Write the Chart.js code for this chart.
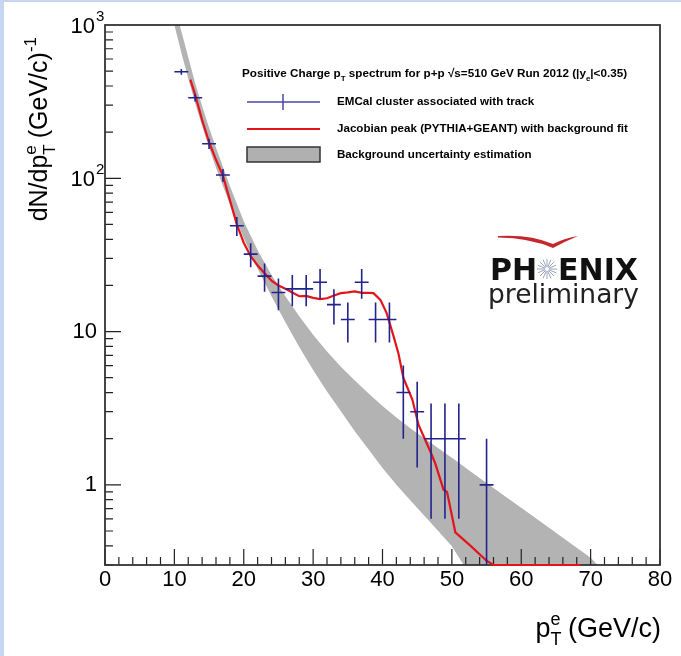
<!DOCTYPE html>
<html>
<head>
<meta charset="utf-8">
<title>Positive charge pT spectrum</title>
<script src="https://cdn.jsdelivr.net/npm/chart.js@4.4.1/dist/chart.umd.min.js"></script>
<style>
  html, body { margin: 0; padding: 0; background: #fff; }
  #wrap { width: 681px; height: 656px; }
</style>
</head>
<body>
<div id="wrap"><canvas id="spectrum" width="681" height="656"></canvas></div>
<script>
// --- Data ---
const binCenters = [11, 13, 15, 17, 19, 21, 23, 25, 27, 29, 31, 33, 35, 37, 39, 41, 43, 45, 47, 49, 51, 55];
const counts = [495, 335, 168, 105, 49, 32, 23, 18, 19, 19, 21, 15, 12, 21, 12, 12, 4, 3, 2, 2, 2, 1];
const countErrors = [22, 18, 13, 10, 7, 5.7, 4.8, 4.2, 4.4, 4.4, 4.6, 3.9, 3.5, 4.6, 3.5, 3.5, 2, 1.7, 1.4, 1.4, 1.4, 1];
const binHalfWidth = 1;

const fitX = [12.3, 13, 14, 15, 16, 17, 18, 19, 20, 21, 22, 23, 24, 25, 26, 27, 28, 29, 30, 31, 32, 33, 34, 35, 36, 37, 38, 38.7,
              39.7, 40.6, 41.6, 42.3, 43, 44.3, 45.2, 46.9, 47.6, 48.8, 49.3, 50.5, 52.7, 55, 56, 68.5];
const fitY = [440, 350, 240, 172, 132, 104, 72, 50, 38, 31, 27, 24, 21.5, 20, 19, 18, 17, 17.1, 16.6, 16.3, 16.5, 17.2, 17.8, 18, 18.3, 17.9, 17.9, 17.8,
              16.1, 13.2, 9.3, 7.2, 5.0, 3.6, 2.46, 1.65, 1.38, 0.93, 0.9, 0.49, 0.40, 0.32, 0.30, 0.30];

const bandX    = [10, 11, 12, 13, 14, 15, 16, 18, 20, 22, 24, 26, 28, 30, 32, 34, 36, 38, 40, 42, 44, 46, 48, 50, 51.7, 52, 54, 56, 58, 60, 62, 64, 66, 68, 70, 71];
const bandLow  = [1000, 661, 447, 309, 219, 158, 117, 67.6, 40.7, 25.7, 17.0, 11.5, 7.94, 5.62, 4.07, 3.02, 2.24, 1.70, 1.29, 1.00, 0.794, 0.631, 0.501, 0.398, 0.30,
                  0.30, 0.30, 0.30, 0.30, 0.30, 0.30, 0.30, 0.30, 0.30, 0.30, 0.30];
const bandHigh = [1350, 912, 617, 417, 295, 214, 158, 89.1, 52.5, 33.9, 23.4, 17.0, 12.6, 9.55, 7.41, 5.89, 4.79, 3.94, 3.27, 2.75, 2.34, 2.02, 1.74, 1.50, 1.32,
                  1.29, 1.11, 0.955, 0.822, 0.708, 0.610, 0.525, 0.452, 0.389, 0.335, 0.30];

const xTickValues = [0, 10, 20, 30, 40, 50, 60, 70, 80];
const xTickLabels = ['0', '10', '20', '30', '40', '50', '60', '70', '80'];
const yTickValues = [1, 10, 100, 1000];
const yTickBase = ['1', '10', '10', '10'];
const yTickExp = ['', '', '2', '3'];

const FONT = '"Liberation Sans", Arial, Helvetica, sans-serif';
const LOGO_FONT = '"DejaVu Sans", Verdana, sans-serif';

// --- Helpers ---
// parts: {text, size, bold, dy, keep}; keep = next part starts at the same x (stacked sub/sup)
function richWidth(ctx, parts) {
    let w = 0;
    parts.forEach(p => {
        ctx.font = (p.bold ? 'bold ' : '') + p.size + 'px ' + FONT;
        if (!p.keep) w += ctx.measureText(p.text).width;
    });
    return w;
}

function drawRich(ctx, parts, x, y, align) {
    let cx = align === 'right' ? x - richWidth(ctx, parts) : x;
    ctx.textAlign = 'left';
    ctx.textBaseline = 'alphabetic';
    parts.forEach(p => {
        ctx.font = (p.bold ? 'bold ' : '') + p.size + 'px ' + FONT;
        ctx.fillText(p.text, cx, y + (p.dy || 0));
        if (!p.keep) cx += ctx.measureText(p.text).width;
    });
}

// --- Plugins ---
function drawFrame(chart) {
    const { ctx, chartArea: a, scales: { x, y } } = chart;
    ctx.save();
    ctx.strokeStyle = '#222';
    ctx.lineWidth = 1.2;
    ctx.beginPath();
    for (let v = 0; v <= 80; v += 2) {
        const px = x.getPixelForValue(v);
        const len = v % 10 === 0 ? 16 : 8;
        ctx.moveTo(px, a.bottom);
        ctx.lineTo(px, a.bottom - len);
    }
    [0.1, 1, 10, 100].forEach(decade => {
        for (let m = 1; m <= 9; m++) {
            const v = decade * m;
            if (v < y.min || v > y.max) continue;
            const py = y.getPixelForValue(v);
            const len = m === 1 ? 16 : 8;
            ctx.moveTo(a.left, py);
            ctx.lineTo(a.left + len, py);
        }
    });
    ctx.stroke();
    ctx.lineWidth = 1.8;
    ctx.strokeStyle = '#333';
    ctx.strokeRect(a.left, a.top, a.right - a.left, a.bottom - a.top);
    ctx.restore();
}

function drawAxisText(chart) {
    const { ctx, scales: { x, y }, chartArea: a } = chart;
    ctx.save();
    ctx.fillStyle = '#000';
    ctx.font = '22px ' + FONT;
    ctx.textAlign = 'center';
    ctx.textBaseline = 'top';
    xTickValues.forEach((v, i) => ctx.fillText(xTickLabels[i], x.getPixelForValue(v), a.bottom + 4));

    yTickValues.forEach((v, i) => {
        const py = y.getPixelForValue(v);
        ctx.textBaseline = 'middle';
        ctx.font = '22px ' + FONT;
        if (yTickExp[i]) {
            ctx.textAlign = 'right';
            ctx.fillText(yTickBase[i], 95, py + 2);
            ctx.font = '15px ' + FONT;
            ctx.textAlign = 'left';
            ctx.fillText(yTickExp[i], 96, py - 8);
        } else {
            ctx.textAlign = 'right';
            ctx.fillText(yTickBase[i], 97, py);
        }
    });

    // x title
    drawRich(ctx, [
        { text: 'p', size: 27 },
        { text: 'T', size: 18, dy: 8, keep: true },
        { text: 'e', size: 18, dy: -12 },
        { text: ' (GeV/c)', size: 27 }
    ], 661, 637, 'right');

    // y title, rotated
    const yParts = [
        { text: 'dN/dp', size: 25 },
        { text: 'T', size: 17, dy: 8, keep: true },
        { text: 'e', size: 17, dy: -11 },
        { text: ' (GeV/c)', size: 25 },
        { text: '-1', size: 17, dy: -11 }
    ];
    ctx.translate(47, 0);
    ctx.rotate(-Math.PI / 2);
    drawRich(ctx, yParts, -37, 0, 'right');
    ctx.restore();
}

function drawLegend(chart) {
    const { ctx } = chart;
    ctx.save();
    ctx.fillStyle = '#000';
    drawRich(ctx, [
        { text: 'Positive Charge p', size: 11.7, bold: true },
        { text: 'T', size: 8, bold: true, dy: 4 },
        { text: ' spectrum for p+p \u221As=510 GeV Run 2012 (|y', size: 11.7, bold: true },
        { text: 'e', size: 8, bold: true, dy: 4 },
        { text: '|<0.35)', size: 11.7, bold: true }
    ], 242, 77);

    ctx.lineWidth = 1.5;
    ctx.strokeStyle = '#4a4aa8';
    ctx.beginPath();
    ctx.moveTo(247, 102); ctx.lineTo(320, 102);
    ctx.moveTo(283, 94); ctx.lineTo(283, 110);
    ctx.stroke();

    ctx.lineWidth = 2.2;
    ctx.strokeStyle = '#e3141c';
    ctx.beginPath();
    ctx.moveTo(247, 129); ctx.lineTo(320, 129);
    ctx.stroke();

    ctx.fillStyle = '#b0b0b0';
    ctx.fillRect(247, 147, 73, 15);
    ctx.lineWidth = 1.5;
    ctx.strokeStyle = '#333';
    ctx.strokeRect(247, 147, 73, 15);

    ctx.fillStyle = '#000';
    ctx.font = 'bold 11.6px ' + FONT;
    ctx.textAlign = 'left';
    ctx.textBaseline = 'middle';
    ctx.fillText('EMCal cluster associated with track', 337, 102);
    ctx.fillText('Jacobian peak (PYTHIA+GEANT) with background fit', 337, 129);
    ctx.fillText('Background uncertainty estimation', 337, 155);
    ctx.restore();
}

function drawLogo(chart) {
    const { ctx } = chart;
    ctx.save();
    // red swoosh
    ctx.fillStyle = '#c4282d';
    ctx.beginPath();
    ctx.moveTo(498, 236);
    ctx.quadraticCurveTo(530, 234, 553, 244);
    ctx.quadraticCurveTo(565, 238, 578, 236);
    ctx.quadraticCurveTo(566, 241, 553, 248);
    ctx.quadraticCurveTo(530, 238, 498, 237.5);
    ctx.closePath();
    ctx.fill();

    ctx.fillStyle = '#111';
    ctx.font = 'bold 30px ' + LOGO_FONT;
    ctx.textBaseline = 'alphabetic';
    ctx.textAlign = 'left';
    ctx.fillText('PH', 490, 280);
    ctx.textAlign = 'right';
    ctx.fillText('ENIX', 638, 280);

    // star burst in place of the O
    ctx.strokeStyle = '#8d9ab8';
    ctx.lineWidth = 0.9;
    ctx.beginPath();
    for (let k = 0; k < 16; k++) {
        const t = k * Math.PI / 8;
        ctx.moveTo(547 + 2 * Math.cos(t), 269 + 2 * Math.sin(t));
        ctx.lineTo(547 + 10 * Math.cos(t), 269 + 10 * Math.sin(t));
    }
    ctx.stroke();

    ctx.fillStyle = '#222';
    ctx.font = '26.5px ' + LOGO_FONT;
    ctx.textAlign = 'left';
    ctx.fillText('preliminary', 488, 303);
    ctx.restore();
}

const paperPlugin = {
    id: 'paper',
    beforeDraw(chart) {
        const { ctx, width, height } = chart;
        ctx.save();
        ctx.fillStyle = '#fff';
        ctx.fillRect(0, 0, width, height);
        ctx.restore();
    },
    beforeDatasetDraw(chart, args) {
        if (args.index === 1) drawFrame(chart);
    },
    afterDraw(chart) {
        const { ctx, width, height } = chart;
        drawAxisText(chart);
        drawLegend(chart);
        drawLogo(chart);
        ctx.save();
        ctx.fillStyle = '#c6d6f2';
        ctx.fillRect(0, 0, width, 2);
        ctx.fillRect(0, 0, 4, height);
        ctx.restore();
    }
};

const errorBarPlugin = {
    id: 'errorBars',
    afterDatasetsDraw(chart) {
        const { ctx, scales: { x, y } } = chart;
        ctx.save();
        ctx.strokeStyle = '#23238c';
        ctx.lineWidth = 1.6;
        ctx.beginPath();
        binCenters.forEach((c, i) => {
            const px = x.getPixelForValue(c);
            const py = y.getPixelForValue(counts[i]);
            const lo = Math.max(counts[i] - countErrors[i], y.min);
            const hi = counts[i] + countErrors[i];
            ctx.moveTo(x.getPixelForValue(c - binHalfWidth), py);
            ctx.lineTo(x.getPixelForValue(c + binHalfWidth), py);
            ctx.moveTo(px, y.getPixelForValue(hi));
            ctx.lineTo(px, y.getPixelForValue(lo));
        });
        ctx.stroke();
        ctx.restore();
    }
};

// --- Chart ---
const toPoints = (xs, ys) => xs.map((v, i) => ({ x: v, y: ys[i] }));

new Chart(document.getElementById('spectrum'), {
    type: 'scatter',
    data: {
        datasets: [
            { label: 'EMCal cluster associated with track', data: toPoints(binCenters, counts), pointRadius: 0, showLine: false },
            { label: 'Jacobian peak (PYTHIA+GEANT) with background fit', data: toPoints(fitX, fitY), showLine: true,
              borderColor: '#e3141c', borderWidth: 2.2, pointRadius: 0, tension: 0, clip: false },
            { label: 'band low', data: toPoints(bandX, bandLow), showLine: true, borderWidth: 0,
              borderColor: 'rgba(0,0,0,0)', pointRadius: 0, fill: false },
            { label: 'Background uncertainty estimation', data: toPoints(bandX, bandHigh), showLine: true, borderWidth: 0,
              borderColor: 'rgba(0,0,0,0)', pointRadius: 0, fill: '-1', backgroundColor: '#b3b3b3' }
        ]
    },
    options: {
        responsive: false,
        animation: false,
        devicePixelRatio: 1,
        events: [],
        layout: { padding: { left: 105, top: 25, right: 21, bottom: 91 } },
        plugins: { legend: { display: false }, tooltip: { enabled: false } },
        scales: {
            x: { type: 'linear', min: 0, max: 80, display: false },
            y: { type: 'logarithmic', min: 0.3, max: 1000, display: false }
        }
    },
    plugins: [paperPlugin, errorBarPlugin]
});
</script>
</body>
</html>
